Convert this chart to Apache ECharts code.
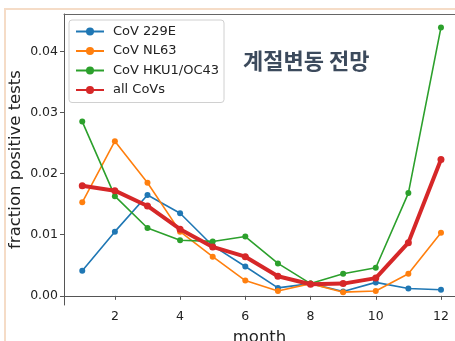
<!DOCTYPE html>
<html><head><meta charset="utf-8">
<script src="https://cdn.jsdelivr.net/npm/echarts@6/dist/echarts.min.js"></script>
<style>html,body{margin:0;padding:0;background:#fff}#c{width:455px;height:341px}</style>
</head><body><div id="c"></div>
<script>
const months = [1,2,3,4,5,6,7,8,9,10,11,12];
const cov229E = [0.0041,0.0105,0.0165,0.0135,0.0082,0.0048,0.0013,0.0020,0.0007,0.0022,0.0012,0.0010];
const covNL63 = [0.0153,0.0253,0.0185,0.0105,0.0064,0.0025,0.0008,0.0020,0.0006,0.0008,0.0036,0.0103];
const covHKU1 = [0.0285,0.0163,0.0111,0.0091,0.0089,0.0097,0.0053,0.0020,0.0036,0.0046,0.0168,0.0439];
const allCoVs = [0.0180,0.0172,0.0147,0.0109,0.0080,0.0064,0.0032,0.0019,0.0020,0.0029,0.0087,0.0223];
const seriesNames = ['CoV 229E','CoV NL63','CoV HKU1/OC43','all CoVs'];
const xTicks = [2,4,6,8,10,12];
const yTicks = [0.00,0.01,0.02,0.03,0.04];
const title = '계절변동 전망';

const colors = ['#1f77b4','#ff7f0e','#2ca02c','#d62728'];
const dataSets = [cov229E, covNL63, covHKU1, allCoVs];
const font = 'DejaVu Sans';

const chart = echarts.init(document.getElementById('c'), null, {renderer:'canvas'});
chart.setOption({
  animation:false,
  backgroundColor:'#fff',
  textStyle:{fontFamily:font},
  graphic:[
    {type:'rect', shape:{x:5,y:9,width:500,height:400}, style:{fill:'none',stroke:'#f5dcc7',lineWidth:2}, z:-10},
    {type:'text', left:243, top:50, style:{text:title, font:'bold 22px "Noto Sans CJK KR"', fill:'#3c4a5c'}, z:10}
  ],
  grid:{left:64, top:14, right:0, bottom:36, outerBoundsMode:'none', containLabel:false, show:false},
  legend:{
    orient:'vertical', left:69, top:20,
    data:seriesNames,
    itemWidth:28, itemHeight:10, itemGap:6.5,
    textStyle:{fontFamily:font, fontSize:13, color:'#222', padding:[0,0,0,4]},
    backgroundColor:'rgba(255,255,255,0.9)', borderColor:'#d0d0d0', borderWidth:1, borderRadius:3,
    padding:[5,5,6,6]
  },
  xAxis:[{
    type:'value', min:0.44, max:12.43,
    name:'month', nameLocation:'middle', nameGap:24, nameMoveOverlap:false,
    nameTextStyle:{fontFamily:font, fontSize:16.5, color:'#222'},
    axisLine:{show:true, lineStyle:{color:'#555'}},
    axisTick:{show:true, length:4, lineStyle:{color:'#555'}, customValues:xTicks},
    axisLabel:{color:'#222', fontSize:12.5, margin:5, customValues:xTicks, formatter:v=>String(v)},
    splitLine:{show:false}
  },{
    type:'value', position:'top', min:0.44, max:12.43,
    axisLine:{show:true, onZero:false, lineStyle:{color:'#666'}},
    axisTick:{show:false}, axisLabel:{show:false}, splitLine:{show:false}
  }],
  yAxis:{
    type:'value', min:-0.0015, max:0.0461,
    name:'fraction positive tests', nameLocation:'middle', nameGap:40, nameRotate:90, nameMoveOverlap:false,
    nameTextStyle:{fontFamily:font, fontSize:16.5, color:'#222'},
    axisLine:{show:true, lineStyle:{color:'#555'}},
    axisTick:{show:true, length:4, lineStyle:{color:'#555'}, customValues:yTicks},
    axisLabel:{color:'#222', fontSize:12.5, margin:6, customValues:yTicks, formatter:v=>v.toFixed(2)},
    splitLine:{show:false}
  },
  series: seriesNames.map((n,i)=>({
    name:n, type:'line',
    data: months.map((m,k)=>[m, dataSets[i][k]]),
    symbol:'circle', symbolSize: i===3 ? 7 : 6,
    itemStyle:{color:colors[i]},
    lineStyle:{color:colors[i], width: i===3 ? 4 : 1.6},
    z: 2+i
  }))
});
</script></body></html>
